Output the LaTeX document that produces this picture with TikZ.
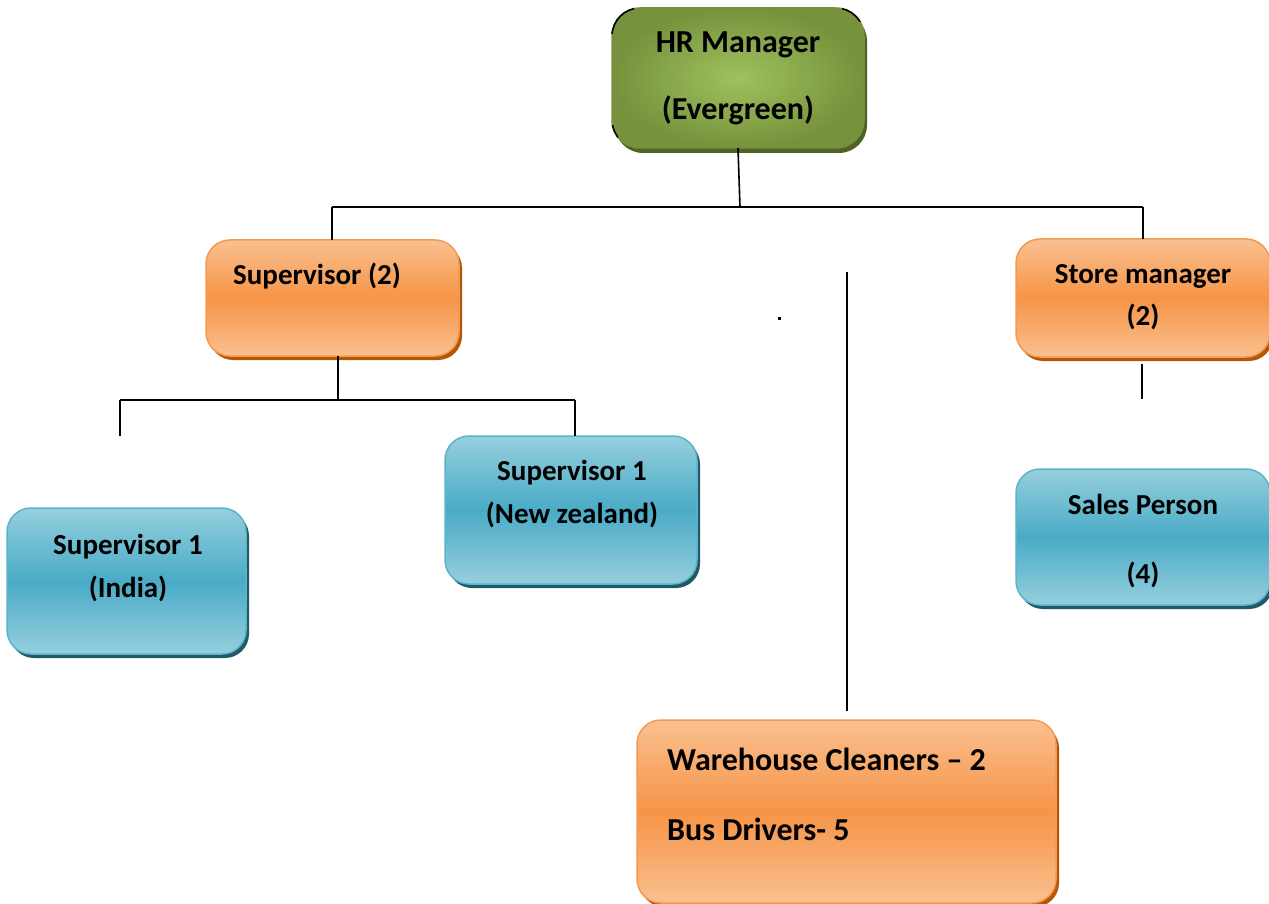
\documentclass[tikz,border=0pt]{standalone}
\usepackage{fontspec}
\setmainfont{Carlito}
\usetikzlibrary{shadows}
\definecolor{orLight}{HTML}{FAC090}
\definecolor{orMid}{HTML}{F69447}
\definecolor{orEdge}{HTML}{F39A50}
\definecolor{orShadow}{HTML}{B65708}
\definecolor{blLight}{HTML}{95CFDE}
\definecolor{blMid}{HTML}{4AABC6}
\definecolor{blEdge}{HTML}{5BB4CC}
\definecolor{blShadow}{HTML}{215968}
\definecolor{grIn}{HTML}{A0C15D}
\definecolor{grOut}{HTML}{76923C}
\definecolor{grShadow}{HTML}{4F6228}
\begin{document}
\begin{tikzpicture}[x=1pt,y=-1pt,
  box/.style={rectangle, rounded corners=24pt, inner sep=0pt, outer sep=0pt,
    anchor=north west, line width=1.5pt},
  orangebox/.style={box, draw=orEdge, top color=orLight, bottom color=orLight,
    middle color=orMid,
    general shadow={fill=orShadow, shadow xshift=3pt, shadow yshift=-4pt}},
  bluebox/.style={box, draw=blEdge, top color=blLight, bottom color=blLight,
    middle color=blMid,
    general shadow={fill=blShadow, shadow xshift=3pt, shadow yshift=-4pt}},
  greenbox/.style={box, rounded corners=28pt, draw=grOut, inner color=grIn,
    outer color=grOut,
    general shadow={fill=grShadow, shadow xshift=3pt, shadow yshift=-5pt}},
  txt/.style={font=\bfseries\fontsize{29}{34}\selectfont, inner sep=0pt, anchor=base},
  bigtxt/.style={txt, font=\bfseries\fontsize{32}{38}\selectfont},
  link/.style={line width=1.6pt, black}]
\useasboundingbox (0,0) rectangle (1269,904);
\clip (0,0) rectangle (1269,904);

% top of the chart
\node[greenbox, minimum width=252pt, minimum height=140pt] (hr) at (612,8) {};
\node[bigtxt] (hrA) at (738,53) {HR Manager};
\node[bigtxt] (hrB) at (738,120) {(Evergreen)};
% black outline showing only at some corners
\foreach \cx/\cy/\dx/\dy in {606/4/634/34, 842/4/864/22, 606/126/618/143}{
  \begin{scope}
    \clip (\cx,\cy) rectangle (\dx,\dy);
    \draw[black, line width=1.6pt, rounded corners=28pt]
      (hr.north west) rectangle (hr.south east);
  \end{scope}
}

% second level
\node[orangebox, minimum width=253pt, minimum height=116pt] (sup) at (206,240) {};
\node[txt, anchor=base west] (supT) at (233,284) {Supervisor (2)};

\node[orangebox, minimum width=254pt, minimum height=118pt] (store) at (1016,239) {};
\node[txt] (storeA) at (1143,283) {Store manager};
\node[txt] (storeB) at (1143,325) {(2)};

% third level
\node[bluebox, minimum width=239pt, minimum height=146pt] (india) at (7,508) {};
\node[txt] (indiaA) at (128,554) {Supervisor 1};
\node[txt] (indiaB) at (128,597) {(India)};

\node[bluebox, minimum width=252pt, minimum height=148pt] (nz) at (445,436) {};
\node[txt] (nzA) at (572,480) {Supervisor 1};
\node[txt] (nzB) at (572,523) {(New zealand)};

\node[bluebox, minimum width=254pt, minimum height=136pt] (sales) at (1016,469) {};
\node[txt] (salesA) at (1143,514) {Sales Person};
\node[txt] (salesB) at (1143,583) {(4)};

\node[orangebox, minimum width=419pt, minimum height=183pt] (wh) at (637,720) {};
\node[bigtxt, anchor=base west] (whA) at (667,770) {Warehouse Cleaners – 2};
\node[bigtxt, anchor=base west] (whB) at (667,840) {Bus Drivers- 5};

% connectors
\coordinate (j0) at (740,207);
\coordinate (jl) at (332,207);
\coordinate (jr) at (1143,207);
\draw[link] (hr.south) -- (j0);
\draw[link] (jl) -- (jr);
\draw[link] (jl) -- (jl |- sup.north);
\draw[link] (jr) -- (jr |- store.north);

\coordinate (sj) at (338,400);
\coordinate (sl) at (120,400);
\coordinate (sr) at (575,400);
\coordinate (slEnd) at (120,436);
\draw[link] (sj |- sup.south) -- (sj);
\draw[link] (sl) -- (sr);
\draw[link] (sl) -- (slEnd);
\draw[link] (sr) -- (sr |- nz.north);

\coordinate (stTop) at (1142,364);
\coordinate (stEnd) at (1142,399);
\draw[link] (stTop) -- (stEnd);

\coordinate (vTop) at (847,272);
\coordinate (vEnd) at (847,711);
\draw[link] (vTop) -- (vEnd);

\fill (778,317) rectangle (781,319.5);
\end{tikzpicture}
\end{document}
